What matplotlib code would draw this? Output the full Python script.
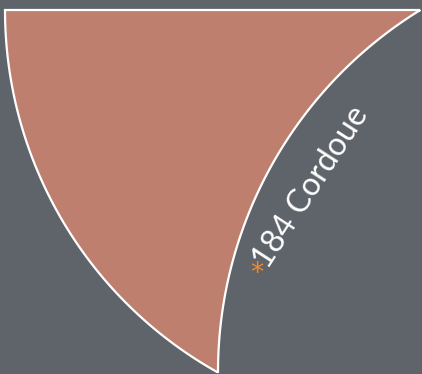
import numpy as np
import matplotlib
matplotlib.use("Agg")
import matplotlib.pyplot as plt
from matplotlib.patches import Polygon

# data
labels = ["Cordoue"]
values = [184]
marks = ["*"]

# geometry of the visible piece (pixel units, y pointing down)
outer_center = (420.0, 10.0)
outer_radius = 415.0
cut_center = (643.0, 372.0)
cut_radius = 425.0
top_y = 10.0

bg = "#5f636a"
fill = "#bf7f6e"
star = "#f28a2a"

fig = plt.figure(figsize=(4.22, 3.74), dpi=100)
fig.patch.set_facecolor(bg)
ax = fig.add_axes([0, 0, 1, 1])
ax.set_facecolor(bg)
ax.set_xlim(0, 422)
ax.set_ylim(374, 0)
ax.axis("off")

# corners of the region
ox, oy = outer_center
cx, cy = cut_center
left_x = ox - np.sqrt(outer_radius**2 - (top_y - oy) ** 2)
right_x = cx - np.sqrt(cut_radius**2 - (top_y - cy) ** 2)

# intersection of the two circles (lower one)
d = np.hypot(cx - ox, cy - oy)
a = (outer_radius**2 - cut_radius**2 + d**2) / (2 * d)
h = np.sqrt(outer_radius**2 - a**2)
mx = ox + a * (cx - ox) / d
my = oy + a * (cy - oy) / d
p1 = (mx + h * (cy - oy) / d, my - h * (cx - ox) / d)
p2 = (mx - h * (cy - oy) / d, my + h * (cx - ox) / d)
bottom = p1 if p1[1] > p2[1] else p2

# arc along the cut circle: from top-right corner down to bottom point
t0 = np.arctan2(top_y - cy, right_x - cx)
t1 = np.arctan2(bottom[1] - cy, bottom[0] - cx)
if t0 < 0:
    t0 += 2 * np.pi
if t1 < 0:
    t1 += 2 * np.pi
tc = np.linspace(t0, t1, 200)
arc_cut = np.column_stack([cx + cut_radius * np.cos(tc), cy + cut_radius * np.sin(tc)])

# arc along the outer circle: from bottom point up to top-left corner
s0 = np.arctan2(bottom[1] - oy, bottom[0] - ox)
s1 = np.arctan2(top_y - oy, left_x - ox)
so = np.linspace(s0, s1, 200)
arc_out = np.column_stack([ox + outer_radius * np.cos(so), oy + outer_radius * np.sin(so)])

pts = np.vstack([[[left_x, top_y], [right_x, top_y]], arc_cut, arc_out])
ax.add_patch(Polygon(pts, closed=True, facecolor=fill, edgecolor="white", linewidth=1.6, joinstyle="miter"))

# label along the curve
ang = 57
ax.text(268, 270, f"{values[0]} {labels[0]}", color="white", fontsize=23,
        family=["Lato", "DejaVu Sans"], rotation=ang, rotation_mode="anchor",
        ha="left", va="baseline")
ax.text(257, 274, marks[0], color=star, fontsize=19,
        family=["DejaVu Sans"], ha="center", va="center")

fig.savefig("out.png", dpi=100, facecolor=bg)
